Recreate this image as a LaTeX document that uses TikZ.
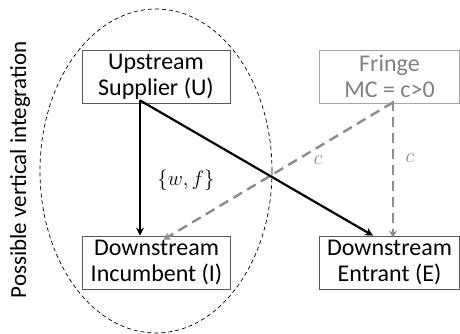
\documentclass[tikz,border=0pt]{standalone}
\usepackage{fontspec}
\setmainfont{Carlito}
\usetikzlibrary{arrows.meta,calc,shapes.geometric}
\definecolor{boxgray}{HTML}{595959}
\definecolor{fringegray}{HTML}{A6A6A6}
\definecolor{fringetext}{HTML}{808080}
\definecolor{dashgray}{HTML}{8C8C8C}
\begin{document}
\begin{tikzpicture}[x=1pt,y=-1pt,
  firm/.style={draw=boxgray,line width=0.8pt,minimum width=148pt,minimum height=53pt,
    inner sep=0pt,align=center,font=\fontsize{24}{26}\selectfont},
  fringebox/.style={firm,draw=fringegray,text=fringetext,minimum width=140pt},
  solidarrow/.style={line width=2.2pt,-{Stealth[length=8pt,width=8pt]}},
  greyarrow/.style={draw=dashgray,line width=2.4pt,dash pattern=on 10pt off 6pt,
    -{Stealth[length=7pt,width=8pt]}},
  lbl/.style={font=\fontsize{22}{24}\selectfont}]
\useasboundingbox (0,0) rectangle (460,334);
\node[firm] (U) at (156,76.5) {Upstream\\Supplier (U)};
\node[firm] (I) at (156.5,262.5) {Downstream\\Incumbent (I)};
\node[fringebox] (F) at (389.5,76.5) {Fringe\\MC = c>0};
\node[firm,minimum width=140pt] (E) at (389.5,262.5) {Downstream\\Entrant (E)};
\node[draw,dashed,dash pattern=on 4pt off 3pt,line width=0.7pt,ellipse,
  minimum width=232pt,minimum height=324pt,inner sep=0pt] (V) at (156,171) {};
\node[rotate=90,font=\fontsize{23}{26}\selectfont] (T) at (20,170) {Possible vertical integration};
\draw[greyarrow] ([xshift=3.5pt,yshift=1pt]F.south) -- ([xshift=7pt,yshift=-4pt]I.north);
\draw[greyarrow] ([xshift=3.5pt,yshift=2pt]F.south) -- ([xshift=3.5pt,yshift=-2pt]E.north);
\draw[solidarrow] ([xshift=-16pt,yshift=3pt]U.south) -- ([xshift=-16.5pt]I.north);
\draw[solidarrow] ([xshift=-16pt,yshift=3pt]U.south) -- ([xshift=-16.5pt]E.north);
\node[lbl] (wf) at (186,180) {$\{w,f\}$};
\node[lbl,text=dashgray] (c1) at (318,160) {$c$};
\node[lbl,text=dashgray] (c2) at (410,158) {$c$};
\end{tikzpicture}
\end{document}
